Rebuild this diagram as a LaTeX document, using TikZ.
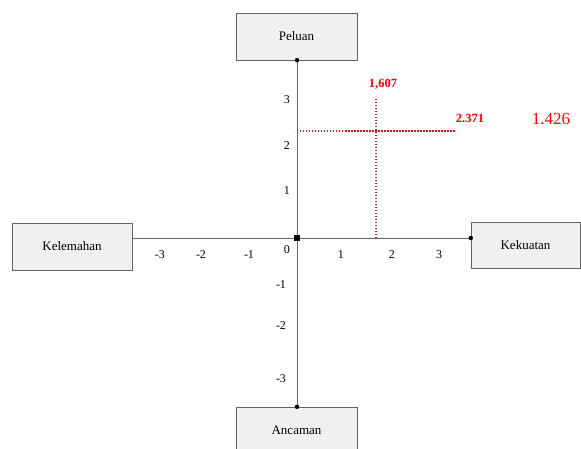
\documentclass[tikz,border=0pt]{standalone}
\usepackage{fontspec}
\setmainfont{Liberation Serif}
\usepackage{xcolor}
\usepackage{tikz}
\usetikzlibrary{positioning}
\definecolor{boxgray}{RGB}{240, 240, 240}
\definecolor{linegray}{RGB}{100, 100, 100}
\definecolor{guidered}{RGB}{210, 25, 25}

\begin{document}
\begin{tikzpicture}[x=1pt, y=1pt,
    quadbox/.style={rectangle, draw=linegray, fill=boxgray, minimum width=121pt, minimum height=47pt, font=\fontsize{13}{15}\selectfont},
    axis/.style={draw=linegray, line width=0.8pt},
    guide/.style={draw=guidered, dash pattern=on 1.5pt off 1.5pt, line width=1.3pt},
    ticklbl/.style={font=\fontsize{12}{14}\selectfont},
    valuelbl/.style={text=red, font=\fontsize{12.5}{14}\bfseries},
    dot/.style={circle, fill=black, inner sep=0pt, minimum size=4.5pt}
]
    \useasboundingbox (-297,-210) rectangle (284,238);

    \node[quadbox] (peluan) at (-0.5, 201.5) {Peluan};
    \node[quadbox] (ancaman) at (-0.5, -192.5) {Ancaman};
    \node[quadbox, minimum width=120pt] (kelemahan) at (-225, -8.5) {Kelemahan};
    \node[quadbox, minimum width=109pt, minimum height=46pt] (kekuatan) at (228.5, -7) {Kekuatan};

    \coordinate (o) at (0,0);
    \draw[axis] (o |- peluan.south) -- (o |- ancaman.north);
    \draw[axis] (kelemahan.east |- o) -- (kekuatan.west |- o);

    % titik ujung sumbu
    \node[dot] (ptop) at (o |- peluan.south) {};
    \node[dot] (pbot) at (o |- ancaman.north) {};
    \node[dot] (pright) at (kekuatan.west |- o) {};
    \node[rectangle, fill=black, inner sep=0pt, minimum size=5.5pt] (porigin) at (o) {};

    % label sumbu X
    \node[ticklbl] (xm3) at (-137, -17) {-3};
    \node[ticklbl] (xm2) at (-96, -17) {-2};
    \node[ticklbl] (xm1) at (-48, -17) {-1};
    \node[ticklbl] (x0) at (-10, -12) {0};
    \node[ticklbl] (x1) at (44, -17) {1};
    \node[ticklbl] (x2) at (95, -17) {2};
    \node[ticklbl] (x3) at (142, -17) {3};

    % label sumbu Y
    \node[ticklbl] (y3) at (-10, 138) {3};
    \node[ticklbl] (y2) at (-10, 92) {2};
    \node[ticklbl] (y1) at (-10, 47) {1};
    \node[ticklbl] (ym1) at (-16, -47) {-1};
    \node[ticklbl] (ym2) at (-16, -88) {-2};
    \node[ticklbl] (ym3) at (-16, -141) {-3};

    % titik posisi
    \coordinate (gxlow) at (79, 0);
    \coordinate (gxtop) at (79, 139);
    \coordinate (gyleft) at (0, 107);
    \coordinate (gyright) at (158, 107);
    \draw[guide] (gxlow) -- (gxtop);
    \draw[guide] (gyleft) -- (gyright);

    \node[valuelbl] (valx) at (86, 154) {1,607};
    \node[valuelbl] (valy) at (173, 120) {2.371};
    \node[text=red, font=\fontsize{17}{19}\selectfont] (valtot) at (254, 119) {1.426};
\end{tikzpicture}
\end{document}
